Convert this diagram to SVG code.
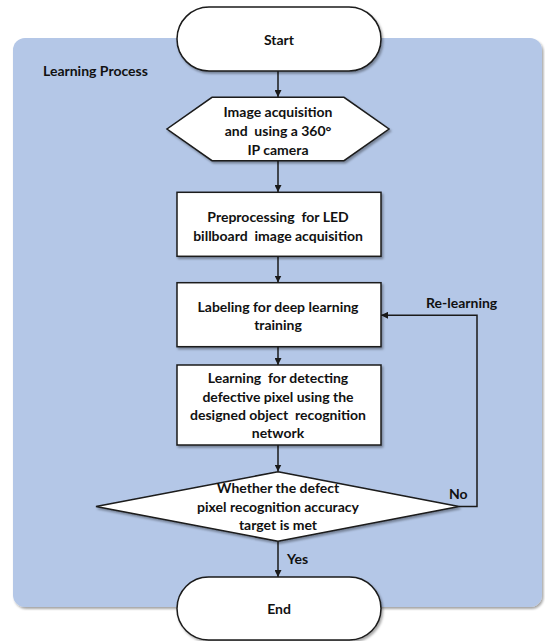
<svg xmlns="http://www.w3.org/2000/svg" width="545" height="641" viewBox="0 0 545 641">
<style>
.node{fill:#fff;stroke:#1a1a1a;stroke-width:1.5;}
.t{font-family:Lato,"Liberation Sans",sans-serif;font-weight:bold;font-size:14px;fill:#111;text-anchor:middle;white-space:pre;}
.lbl{font-family:Lato,"Liberation Sans",sans-serif;font-weight:bold;font-size:14px;fill:#111;}
.c{fill:none;stroke:#1a1a1a;stroke-width:1.5;}
</style>
<defs>
<marker id="ah" viewBox="0 0 8 8" refX="8" refY="4" markerWidth="7" markerHeight="7" markerUnits="userSpaceOnUse" orient="auto">
<path d="M0,0 L8,4 L0,8 z" fill="#1a1a1a"/>
</marker>
<filter id="sh" x="-10%" y="-10%" width="130%" height="140%">
<feDropShadow dx="1.5" dy="2" stdDeviation="1.2" flood-color="#000" flood-opacity="0.35"/>
</filter>
</defs>
<g id="panel">
<rect x="13" y="38" width="529" height="569" rx="12" fill="#b4c7e7" filter="url(#sh)"/>
<text class="lbl" x="43" y="76">Learning Process</text>
</g>
<g id="connectors">
<line class="c" x1="278" y1="71" x2="278" y2="97" marker-end="url(#ah)"/>
<line class="c" x1="278" y1="161" x2="278" y2="192" marker-end="url(#ah)"/>
<line class="c" x1="278" y1="256" x2="278" y2="282.5" marker-end="url(#ah)"/>
<line class="c" x1="278" y1="347" x2="278" y2="365" marker-end="url(#ah)"/>
<line class="c" x1="278" y1="445" x2="278" y2="471.5" marker-end="url(#ah)"/>
<line class="c" x1="278" y1="541.5" x2="278" y2="577" marker-end="url(#ah)"/>
<polyline class="c" points="459,506.5 477,506.5 477,315.3 381,315.3" marker-end="url(#ah)"/>
<text class="lbl" x="426" y="308">Re-learning</text>
<text class="lbl" x="449" y="499">No</text>
<text class="lbl" x="287" y="564">Yes</text>
</g>
<g id="start">
<rect class="node" x="177" y="7" width="204" height="64" rx="32" filter="url(#sh)"/>
<text class="t" x="279" y="45">Start</text>
</g>
<g id="acquisition">
<polygon class="node" points="212,97.3 344,97.3 389,129 344,160.7 212,160.7 167,129" filter="url(#sh)"/>
<text class="t" x="278" y="117">Image acquisition</text>
<text class="t" x="278" y="136" xml:space="preserve">and  using a 360°</text>
<text class="t" x="278" y="155">IP camera</text>
</g>
<g id="preprocessing">
<rect class="node" x="177" y="192.3" width="204" height="64" filter="url(#sh)"/>
<text class="t" x="278" y="221.5" xml:space="preserve">Preprocessing  for LED</text>
<text class="t" x="278" y="240.5" xml:space="preserve">billboard  image acquisition</text>
</g>
<g id="labeling">
<rect class="node" x="177" y="282.7" width="204" height="64" filter="url(#sh)"/>
<text class="t" x="278" y="311.5">Labeling for deep learning</text>
<text class="t" x="278" y="330">training</text>
</g>
<g id="learning">
<rect class="node" x="177" y="365" width="204" height="80" filter="url(#sh)"/>
<text class="t" x="278" y="383" xml:space="preserve">Learning  for detecting</text>
<text class="t" x="278" y="401.5">defective pixel using the</text>
<text class="t" x="278" y="420" xml:space="preserve">designed object  recognition</text>
<text class="t" x="278" y="438">network</text>
</g>
<g id="decision">
<polygon class="node" points="278,471.7 459,506.5 278,541.3 96,506.5" filter="url(#sh)"/>
<text class="t" x="278" y="493">Whether the defect</text>
<text class="t" x="278" y="511.5">pixel recognition accuracy</text>
<text class="t" x="278" y="530">target is met</text>
</g>
<g id="end">
<rect class="node" x="177" y="577" width="204" height="63" rx="31.5" filter="url(#sh)"/>
<text class="t" x="279" y="614">End</text>
</g>
</svg>
